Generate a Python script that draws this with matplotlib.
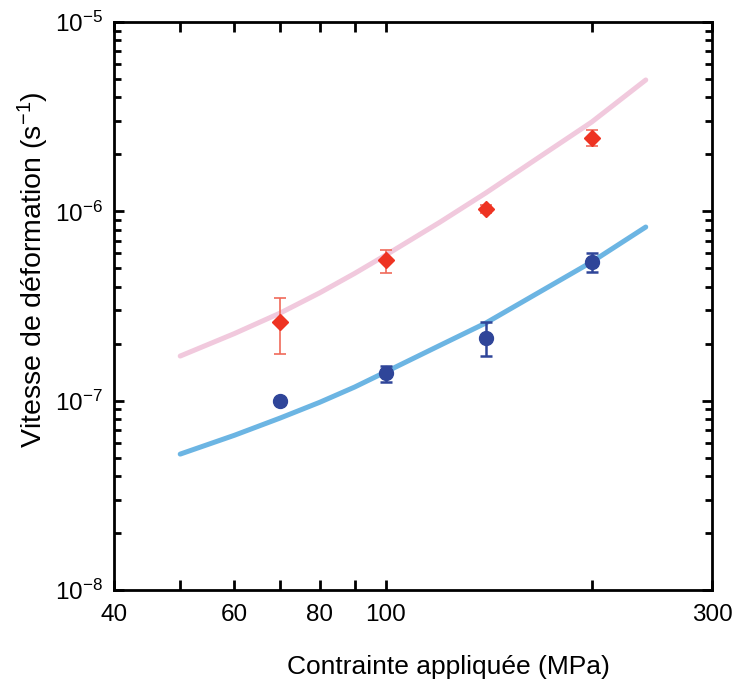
import numpy as np
import matplotlib.pyplot as plt
from matplotlib.ticker import FixedLocator, FixedFormatter, LogLocator, NullFormatter

plt.rcParams['font.family'] = ['Liberation Sans', 'DejaVu Sans']
plt.rcParams['mathtext.fontset'] = 'custom'
plt.rcParams['mathtext.rm'] = 'Liberation Sans'
plt.rcParams['mathtext.it'] = 'Liberation Sans:italic'

# measured points
stress = [70, 100, 140, 200]
rate_red = [2.6e-7, 5.5e-7, 1.03e-6, 2.44e-6]
red_lo = [1.76e-7, 4.72e-7, 0.98e-6, 2.2e-6]
red_hi = [3.48e-7, 6.25e-7, 1.08e-6, 2.7e-6]
rate_blue = [1.0e-7, 1.40e-7, 2.14e-7, 5.4e-7]
blue_lo = [1.0e-7, 1.26e-7, 1.73e-7, 4.8e-7]
blue_hi = [1.0e-7, 1.53e-7, 2.61e-7, 6.0e-7]

# model curves
model_x = [50, 60, 70, 80, 90, 100, 120, 140, 170, 200, 240]
model_pink = [1.72e-7, 2.26e-7, 2.90e-7, 3.71e-7, 4.7e-7, 5.88e-7, 8.77e-7, 1.25e-6, 2.0e-6, 2.96e-6, 4.94e-6]
model_blue = [5.22e-8, 6.56e-8, 8.09e-8, 9.8e-8, 1.18e-7, 1.42e-7, 1.96e-7, 2.57e-7, 3.85e-7, 5.4e-7, 8.26e-7]

fig = plt.figure(figsize=(7.34, 6.91), dpi=100)
ax = fig.add_axes([0.1553, 0.1462, 0.8147, 0.8220])

ax.plot(model_x, model_pink, color='#f1c9dd', lw=3.6, solid_capstyle='round', zorder=1)
ax.plot(model_x, model_blue, color='#6cb5e3', lw=3.6, solid_capstyle='round', zorder=1)

r = np.array(rate_red)
ax.errorbar(stress, rate_red, yerr=[r - np.array(red_lo), np.array(red_hi) - r],
            fmt='D', color='#ee3322', ecolor='#f06a5a', ms=8, elinewidth=1.2,
            capsize=4, capthick=1.2, zorder=3)
b = np.array(rate_blue)
ax.errorbar(stress, rate_blue, yerr=[b - np.array(blue_lo), np.array(blue_hi) - b],
            fmt='o', color='#2f4599', ecolor='#2f4599', ms=10, elinewidth=1.8,
            capsize=4, capthick=1.8, zorder=3)

ax.set_xscale('log')
ax.set_yscale('log')
ax.set_xlim(40, 300)
ax.set_ylim(1e-8, 1e-5)

xt = [40, 50, 60, 70, 80, 90, 100, 200, 300]
xl = ['40', '', '60', '', '80', '', '100', '', '300']
ax.xaxis.set_major_locator(FixedLocator(xt))
ax.xaxis.set_major_formatter(FixedFormatter(xl))
ax.xaxis.set_minor_locator(FixedLocator([]))

ax.yaxis.set_major_locator(FixedLocator([1e-8, 1e-7, 1e-6, 1e-5]))
ax.yaxis.set_major_formatter(FixedFormatter([r'10$^{-8}$', r'10$^{-7}$', r'10$^{-6}$', r'10$^{-5}$']))
ax.yaxis.set_minor_locator(LogLocator(base=10, subs=np.arange(2, 10)))
ax.yaxis.set_minor_formatter(NullFormatter())

ax.tick_params(which='both', direction='in', top=True, right=True, width=2, labelsize=17.5)
ax.tick_params(which='major', length=7)
ax.tick_params(which='minor', length=5)
ax.tick_params(axis='x', pad=10)
ax.tick_params(axis='y', pad=8)
for s in ax.spines.values():
    s.set_linewidth(2)

fig.text(448 / 734, 1 - 667 / 691, 'Contrainte appliquée (MPa)', fontsize=19,
         ha='center', va='center')
fig.text(33 / 734, 1 - 270 / 691, 'Vitesse de déformation (s$^{-1}$)', fontsize=20.5,
         ha='center', va='center', rotation=90)

fig.savefig('out.png', dpi=100)
